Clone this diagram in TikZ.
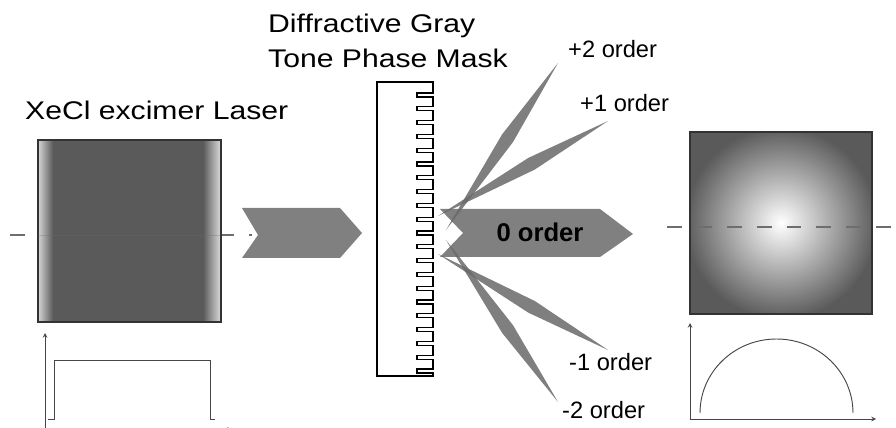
\documentclass[tikz,border=0pt]{standalone}
\usepackage{fontspec}
\setmainfont{Liberation Sans}
\newfontfamily\widesans[FakeStretch=1.18]{Liberation Sans}
\usetikzlibrary{calc,arrows}
\definecolor{boxgray}{RGB}{90,90,90}
\definecolor{beamgray}{RGB}{105,105,105}
\definecolor{arrgray}{RGB}{128,128,128}
\definecolor{axisgray}{RGB}{70,70,70}
\definecolor{dashgray}{RGB}{110,110,110}
\tikzset{
  headtext/.style={anchor=base west,inner sep=0pt,font=\widesans\fontsize{21.8}{24}\selectfont},
  ordertext/.style={anchor=base west,inner sep=0pt,font=\fontsize{20.2}{24}\selectfont},
  axisarrow/.style={draw=axisgray,line width=0.8pt,-stealth},
  curve/.style={draw=axisgray,line width=0.8pt},
  centerline/.style={draw=dashgray,line width=1pt,dash pattern=on 12.75pt off 12.75pt}
}
% thin spindle from #1 to #2
\newcommand{\beam}[2]{\fill[beamgray,opacity=.85] (#1) -- ($(#1)!0.55!(#2)!0.2cm!90:(#2)$) -- (#2) -- ($(#1)!0.55!(#2)!0.2cm!-90:(#2)$) -- cycle;}
\begin{document}
\begin{tikzpicture}[x=0.03cm,y=-0.03cm]
  \useasboundingbox (0,0) rectangle (896,428);

  % laser beam profile
  \node[headtext] (laser) at (25,120) {XeCl excimer Laser};
  \draw[centerline] (10,235) -- (252,235);
  \fill[boxgray] (38,140) rectangle (221,322);
  \shade[left color=white!75!boxgray,right color=boxgray] (38,140) rectangle (53,322);
  \shade[left color=boxgray,right color=white!80!boxgray] (203,140) rectangle (221,322);
  \draw[line width=1.2pt,draw=black!80] (38,140) rectangle (221,322);
  \draw[dashgray,opacity=.3] (38,235) -- (221,235);
  \draw[axisarrow] (45,432) -- (45,333);
  \draw[axisarrow] (45,429.5) -- (232,429.5);
  \draw[curve] (48,419) -- (54,419) -- (54,360) -- (210,360) -- (210,419) -- (215,419);

  \fill[arrgray] (242,208) -- (340,208) -- (362,233) -- (340,258) -- (242,258) -- (258,235) -- cycle;

  % mask
  \node[headtext] (mask1) at (268,33) {Diffractive Gray};
  \node[headtext] (mask2) at (268,68) {Tone Phase Mask};
  \draw[line width=0.9pt] (433,376) -- (377,376) -- (377,82) -- (433,82)
    foreach \i in {0,...,20} {
      -- (433,{93+13.8*\i}) -- (417,{93+13.8*\i}) -- (417,{97+13.8*\i}) -- (433,{97+13.8*\i})
    } -- cycle;

  % diffraction orders
  \fill[arrgray] (440,209) -- (600,209) -- (633,234) -- (600,257) -- (440,257) -- (463,233) -- cycle;
  \node[anchor=base,inner sep=0pt,font=\bfseries\fontsize{21.9}{24}\selectfont] (zero) at (540,242) {0 order};

  \coordinate (p2a) at (446,230);
  \coordinate (p2b) at (558,63);
  \coordinate (p1a) at (438,216);
  \coordinate (p1b) at (608,121);
  \coordinate (m1a) at (438,254);
  \coordinate (m1b) at (608,350);
  \coordinate (m2a) at (446,240);
  \coordinate (m2b) at (558,402);
  \beam{p2a}{p2b}
  \beam{p1a}{p1b}
  \beam{m1a}{m1b}
  \beam{m2a}{m2b}

  \node[ordertext] (p2) at (568,58) {+2 order};
  \node[ordertext] (p1) at (580,112) {+1 order};
  \node[ordertext] (m1) at (569,370) {-1 order};
  \node[ordertext] (m2) at (562,418) {-2 order};

  % shaped spot
  \fill[boxgray] (690,132) rectangle (872,314);
  \begin{scope}
    \clip (690,132) rectangle (872,314);
    \shade[inner color=white,outer color=boxgray] (781,223) circle[radius=96];
  \end{scope}
  \draw[line width=1.2pt,draw=black!80] (690,132) rectangle (872,314);
  \draw[centerline] (667,227) -- (892,227);
  \draw[axisarrow] (690,419) -- (690,323);
  \draw[axisarrow] (690,419) -- (876,419);
  \draw[curve] (700,413) arc[start angle=180,end angle=360,x radius=76.5,y radius=74];
\end{tikzpicture}
\end{document}
